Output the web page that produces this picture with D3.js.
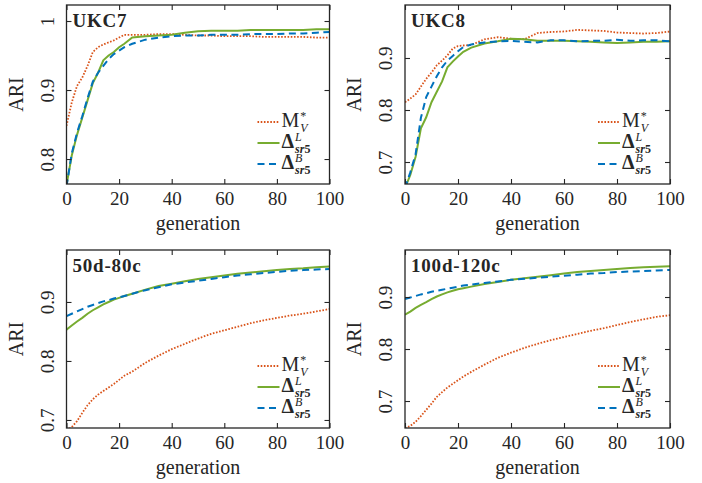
<!DOCTYPE html>
<html>
<head>
<meta charset="utf-8">
<script src="https://cdn.jsdelivr.net/npm/d3@7"></script>
<style>
  body { margin: 0; background: #fff; }
  svg text { font-family: "Liberation Serif", "DejaVu Serif", serif; fill: #262626; }
</style>
</head>
<body>
<script>
// generation sampled from the curves
const generations = [0, 2, 4, 6, 8, 10, 12, 14, 16, 18, 20, 22, 25, 30, 35, 40, 45, 50, 55, 60, 65, 70, 75, 80, 85, 90, 95, 100];

const titles = ["UKC7", "UKC8", "50d-80c", "100d-120c"];

// UKC7
const mvUKC7 = [0.848, 0.882, 0.906, 0.918, 0.935, 0.955, 0.962, 0.966, 0.969, 0.972, 0.976, 0.980, 0.980, 0.980, 0.981, 0.981, 0.980, 0.979, 0.979, 0.978, 0.978, 0.978, 0.977, 0.977, 0.977, 0.977, 0.976, 0.976];
const dlUKC7 = [0.762, 0.805, 0.835, 0.860, 0.885, 0.910, 0.925, 0.943, 0.950, 0.955, 0.962, 0.967, 0.976, 0.978, 0.979, 0.980, 0.983, 0.985, 0.986, 0.986, 0.986, 0.987, 0.987, 0.987, 0.987, 0.987, 0.988, 0.988];
const dbUKC7 = [0.760, 0.808, 0.838, 0.862, 0.888, 0.912, 0.925, 0.935, 0.945, 0.952, 0.957, 0.962, 0.967, 0.973, 0.976, 0.978, 0.979, 0.979, 0.980, 0.980, 0.980, 0.981, 0.981, 0.981, 0.982, 0.982, 0.983, 0.984];

// UKC8
const mvUKC8 = [0.815, 0.822, 0.830, 0.845, 0.860, 0.872, 0.886, 0.895, 0.905, 0.918, 0.923, 0.924, 0.925, 0.936, 0.940, 0.937, 0.936, 0.948, 0.950, 0.951, 0.954, 0.953, 0.952, 0.949, 0.948, 0.947, 0.948, 0.951];
const dlUKC8 = [0.650, 0.675, 0.710, 0.765, 0.786, 0.815, 0.835, 0.855, 0.882, 0.893, 0.903, 0.912, 0.920, 0.928, 0.932, 0.937, 0.936, 0.933, 0.933, 0.933, 0.932, 0.931, 0.930, 0.929, 0.930, 0.931, 0.931, 0.932];
const dbUKC8 = [0.650, 0.680, 0.715, 0.785, 0.825, 0.845, 0.865, 0.882, 0.895, 0.904, 0.913, 0.921, 0.926, 0.930, 0.932, 0.933, 0.931, 0.930, 0.934, 0.934, 0.932, 0.933, 0.933, 0.935, 0.933, 0.934, 0.934, 0.932];

// 50d-80c
const mv50d = [0.682, 0.688, 0.698, 0.712, 0.725, 0.735, 0.743, 0.749, 0.755, 0.761, 0.768, 0.775, 0.782, 0.797, 0.809, 0.820, 0.829, 0.838, 0.846, 0.852, 0.858, 0.864, 0.869, 0.873, 0.877, 0.880, 0.884, 0.888];
const dl50d = [0.853, 0.860, 0.867, 0.873, 0.880, 0.886, 0.891, 0.896, 0.900, 0.904, 0.907, 0.910, 0.914, 0.921, 0.927, 0.931, 0.935, 0.939, 0.942, 0.945, 0.948, 0.950, 0.952, 0.954, 0.956, 0.957, 0.959, 0.960];
const db50d = [0.876, 0.880, 0.884, 0.888, 0.892, 0.895, 0.898, 0.901, 0.903, 0.906, 0.908, 0.910, 0.914, 0.920, 0.925, 0.930, 0.933, 0.936, 0.939, 0.942, 0.945, 0.947, 0.949, 0.951, 0.953, 0.954, 0.955, 0.956];

// 100d-120c
const mv100d = [0.648, 0.652, 0.660, 0.671, 0.683, 0.695, 0.708, 0.717, 0.726, 0.733, 0.740, 0.747, 0.756, 0.770, 0.783, 0.793, 0.802, 0.810, 0.817, 0.823, 0.829, 0.835, 0.840, 0.846, 0.852, 0.857, 0.862, 0.865];
const dl100d = [0.866, 0.872, 0.879, 0.885, 0.890, 0.896, 0.901, 0.905, 0.909, 0.912, 0.915, 0.917, 0.920, 0.925, 0.929, 0.933, 0.936, 0.939, 0.942, 0.945, 0.948, 0.950, 0.952, 0.954, 0.956, 0.957, 0.958, 0.959];
const db100d = [0.896, 0.899, 0.902, 0.905, 0.907, 0.910, 0.912, 0.914, 0.916, 0.918, 0.920, 0.922, 0.924, 0.927, 0.930, 0.933, 0.935, 0.937, 0.939, 0.941, 0.943, 0.945, 0.946, 0.948, 0.949, 0.950, 0.951, 0.952];

const xTicks = [0, 20, 40, 60, 80, 100];
const yTicks = [[0.8, 0.9, 1], [0.7, 0.8, 0.9], [0.7, 0.8, 0.9], [0.7, 0.8, 0.9]];
const yTickLabels = [["0.8", "0.9", "1"], ["0.7", "0.8", "0.9"], ["0.7", "0.8", "0.9"], ["0.7", "0.8", "0.9"]];

const legendMain = ["M", "Δ", "Δ"];
const legendSup = ["*", "L", "B"];
const legendSub = ["V", "sr5", "sr5"];

const seriesData = [
    [mvUKC7, dlUKC7, dbUKC7],
    [mvUKC8, dlUKC8, dbUKC8],
    [mv50d, dl50d, db50d],
    [mv100d, dl100d, db100d]
];

// styles for M*_V, Δ^L, Δ^B
const styles = [
    {color: "#D95319", width: 1.8, dash: "1.6,1.6"},
    {color: "#77AC30", width: 2, dash: null},
    {color: "#0072BD", width: 2, dash: "7,4.5"}
];

// plot boxes in pixels, and the y range shown
const layout = [
    {x0: 66.5, x1: 329.5, y0: 5,   y1: 184, ydom: [0.7638, 1.0232]},
    {x0: 405,  x1: 670,   y0: 5,   y1: 184, ydom: [0.6577, 1.0019]},
    {x0: 66.5, x1: 329.5, y0: 250, y1: 428, ydom: [0.6864, 0.9881]},
    {x0: 405,  x1: 670,   y0: 250, y1: 428, ydom: [0.6481, 0.9904]}
];

const serif = '"Liberation Serif", "DejaVu Serif", serif';

const svg = d3.select("body").append("svg")
    .attr("width", 702)
    .attr("height", 483);

const ink = "#262626";

layout.forEach((L, i) => {
    let xScale = d3.scaleLinear().domain([0, 100]).range([L.x0, L.x1]);
    let yScale = d3.scaleLinear().domain(L.ydom).range([L.y1, L.y0]);

    let g = svg.append("g");

    svg.append("clipPath").attr("id", "clip" + i)
        .append("rect")
        .attr("x", L.x0).attr("y", L.y0)
        .attr("width", L.x1 - L.x0).attr("height", L.y1 - L.y0);

    // lines
    const line = d3.line()
        .x((d, j) => xScale(generations[j]))
        .y(d => yScale(d));

    seriesData[i].forEach((vals, s) => {
        g.append("path")
            .datum(vals)
            .attr("clip-path", `url(#clip${i})`)
            .attr("fill", "none")
            .attr("stroke", styles[s].color)
            .attr("stroke-width", styles[s].width)
            .attr("stroke-dasharray", styles[s].dash)
            .attr("d", line);
    });

    // axes (ticks inward on all four sides)
    let bottom = g.append("g")
        .attr("transform", `translate(0,${L.y1})`)
        .call(d3.axisBottom(xScale).tickValues(xTicks).tickSize(-5));
    bottom.selectAll("text")
        .attr("y", 21).attr("dy", null)
        .style("font-size", "19px");

    g.append("g")
        .attr("transform", `translate(0,${L.y0})`)
        .call(d3.axisTop(xScale).tickValues(xTicks).tickSize(-5).tickFormat(""));

    let left = g.append("g")
        .attr("transform", `translate(${L.x0},0)`)
        .call(d3.axisLeft(yScale).tickValues(yTicks[i]).tickSize(-5)
            .tickFormat((d, k) => yTickLabels[i][k]));
    left.selectAll("text")
        .attr("x", null).attr("dy", null)
        .attr("transform", "translate(-13,0) rotate(-90)")
        .attr("text-anchor", "middle")
        .style("font-size", "19px");

    g.append("g")
        .attr("transform", `translate(${L.x1},0)`)
        .call(d3.axisRight(yScale).tickValues(yTicks[i]).tickSize(-5).tickFormat(""));

    g.selectAll(".domain").remove();
    g.selectAll(".tick line").attr("stroke", ink).attr("stroke-width", 1.1);
    g.selectAll(".tick text").attr("fill", ink).style("font-family", serif);

    g.append("rect")
        .attr("x", L.x0).attr("y", L.y0)
        .attr("width", L.x1 - L.x0).attr("height", L.y1 - L.y0)
        .attr("fill", "none").attr("stroke", ink).attr("stroke-width", 1.3);

    // axis titles
    g.append("text")
        .attr("x", (L.x0 + L.x1) / 2).attr("y", L.y1 + 46)
        .attr("text-anchor", "middle")
        .style("font-family", serif)
        .style("font-size", "20px")
        .text("generation");

    g.append("text")
        .attr("transform", `translate(${L.x0 - 44},${(L.y0 + L.y1) / 2}) rotate(-90)`)
        .attr("text-anchor", "middle")
        .style("font-family", serif)
        .style("font-size", "20px")
        .text("ARI");

    // panel title
    g.append("text")
        .attr("x", L.x0 + 6).attr("y", L.y0 + 22)
        .style("font-family", serif)
        .style("font-size", "19px").style("font-weight", "bold")
        .style("letter-spacing", "0.8px")
        .text(titles[i]);

    // legend: one text per entry, scripts as tspans
    let lx = L.x1 - 72;
    let ly = L.y1 - 62;
    styles.forEach((st, s) => {
        let y = ly + s * 21;
        g.append("line")
            .attr("x1", lx).attr("x2", lx + 22)
            .attr("y1", y).attr("y2", y)
            .attr("stroke", st.color)
            .attr("stroke-width", st.width)
            .attr("stroke-dasharray", st.dash);

        let isDelta = s > 0;
        let label = g.append("text")
            .attr("x", lx + 24).attr("y", y + 5)
            .style("font-family", serif);
        label.append("tspan")
            .style("font-size", "20px")
            .style("font-weight", isDelta ? "bold" : "normal")
            .text(legendMain[s]);
        let w = label.node().getComputedTextLength();
        let sx = lx + 24 + w + 1;

        label.append("tspan")
            .attr("x", sx).attr("y", y - 2.5)
            .style("font-size", "12px")
            .style("font-style", isDelta ? "italic" : "normal")
            .text(legendSup[s]);

        if (isDelta) {
            label.append("tspan")
                .attr("x", sx).attr("y", y + 9.5)
                .style("font-size", "12px")
                .style("font-style", "italic").style("font-weight", "bold")
                .text(legendSub[s].slice(0, 2));
            label.append("tspan")
                .style("font-size", "12px")
                .style("font-weight", "bold")
                .text(legendSub[s].slice(2));
        } else {
            label.append("tspan")
                .attr("x", sx).attr("y", y + 9.5)
                .style("font-size", "12px")
                .style("font-style", "italic")
                .text(legendSub[s]);
        }
    });
});
</script>
</body>
</html>
